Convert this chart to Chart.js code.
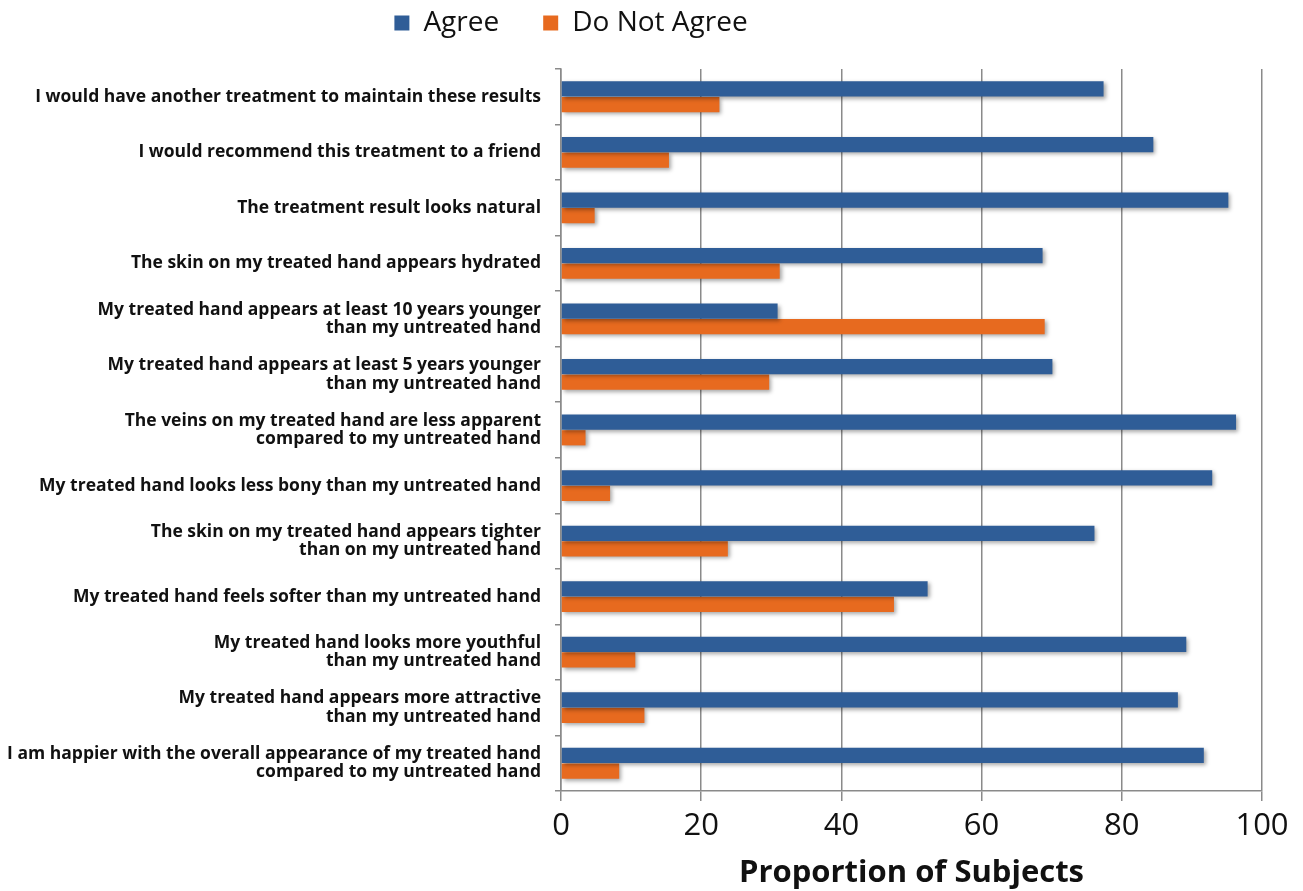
<!DOCTYPE html>
<html>
<head>
<meta charset="utf-8">
<script src="https://cdn.jsdelivr.net/npm/chart.js@4.4.1/dist/chart.umd.min.js"></script>
<style>
  html, body { margin: 0; padding: 0; background: #ffffff; }
  #wrap { width: 1303px; height: 891px; position: relative; }
</style>
</head>
<body>
<div id="wrap"><canvas id="c" width="1303" height="891"></canvas></div>
<script>
const categories = [
  "I would have another treatment to maintain these results",
  "I would recommend this treatment to a friend",
  "The treatment result looks natural",
  "The skin on my treated hand appears hydrated",
  ["My treated hand appears at least 10 years younger", "than my untreated hand"],
  ["My treated hand appears at least 5 years younger", "than my untreated hand"],
  ["The veins on my treated hand are less apparent", "compared to my untreated hand"],
  "My treated hand looks less bony than my untreated hand",
  ["The skin on my treated hand appears tighter", "than on my untreated hand"],
  "My treated hand feels softer than my untreated hand",
  ["My treated hand looks more youthful", "than my untreated hand"],
  ["My treated hand appears more attractive", "than my untreated hand"],
  ["I am happier with the overall appearance of my treated hand", "compared to my untreated hand"]
];
const agree    = [77.4, 84.5, 95.2, 68.7, 30.9, 70.1, 96.3, 92.9, 76.1, 52.3, 89.2, 88.0, 91.7];
const notAgree = [22.6, 15.4, 4.8, 31.2, 69.0, 29.7, 3.5, 7.0, 23.8, 47.5, 10.6, 11.9, 8.3];
const xTicks = [0, 20, 40, 60, 80, 100];

const shadowPlugin = {
  id: 'barShadow',
  beforeDatasetsDraw(chart) {
    const ctx = chart.ctx;
    ctx.save();
    ctx.shadowColor = 'rgba(0,0,0,0.35)';
    ctx.shadowBlur = 4;
    ctx.shadowOffsetX = 2;
    ctx.shadowOffsetY = 2;
  },
  afterDatasetsDraw(chart) { chart.ctx.restore(); }
};
const legendShift = {
  id: 'legendShift',
  afterLayout(chart) {
    const l = chart.legend;
    if (l) { l.left -= 60; l.right -= 60; l.top -= 22; l.bottom -= 22; }
  }
};

new Chart(document.getElementById('c'), {
  type: 'bar',
  data: {
    labels: categories,
    datasets: [
      { label: 'Agree', data: agree, backgroundColor: '#2F5D97', borderWidth: 0 },
      { label: 'Do Not Agree', data: notAgree, backgroundColor: '#E76A1F', borderWidth: 0 }
    ]
  },
  options: {
    indexAxis: 'y',
    responsive: false,
    maintainAspectRatio: false,
    animation: false,
    devicePixelRatio: 1,
    layout: { padding: { top: -13, right: 41, bottom: 2, left: 0 } },
    datasets: { bar: { categoryPercentage: 0.56, barPercentage: 0.98 } },
    plugins: {
      legend: {
        position: 'top',
        labels: {
          font: { family: 'Open Sans', size: 28 },
          color: '#111',
          boxWidth: 15,
          boxHeight: 15,
          padding: 44
        }
      },
      tooltip: { enabled: false }
    },
    scales: {
      x: {
        min: 0, max: 100,
        afterBuildTicks(s) { s.ticks = xTicks.map(v => ({ value: v })); },
        grid: { color: '#8a8a8a', lineWidth: 1.5, tickLength: 10, drawTicks: true },
        border: { color: '#8a8a8a', width: 1.5 },
        ticks: { font: { family: 'Open Sans', size: 31, lineHeight: 1.0 }, color: '#111', padding: 10 },
        title: { display: true, text: 'Proportion of Subjects', font: { family: 'Open Sans', size: 31, weight: 'bold', lineHeight: 1.0 }, color: '#111', padding: { top: 6, bottom: 0 } }
      },
      y: {
        afterFit(s) { s.width = 561; },
        grid: { offset: true, drawOnChartArea: false, drawTicks: true, tickLength: 6, color: '#8a8a8a', lineWidth: 1.5 },
        border: { color: '#8a8a8a', width: 1.5 },
        ticks: { font: { family: 'Open Sans', size: 17.5, weight: 'bold', lineHeight: 1.05 }, color: '#111', padding: 14, autoSkip: false }
      }
    }
  },
  plugins: [shadowPlugin, legendShift]
});
</script>
</body>
</html>
